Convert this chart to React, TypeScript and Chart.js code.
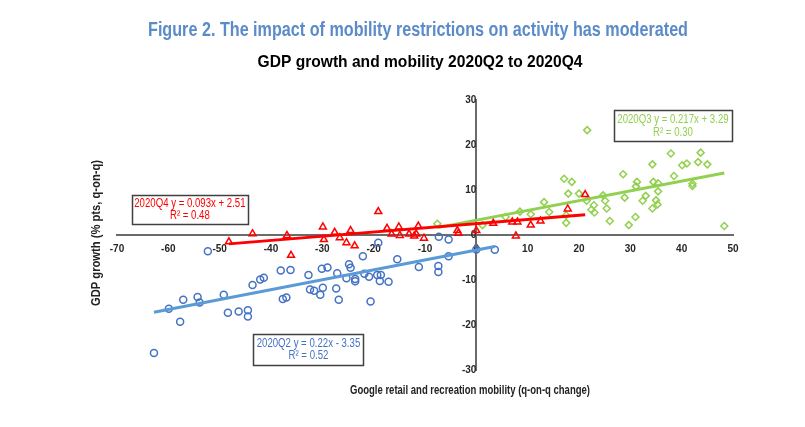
import { useEffect, useRef } from "react";
import { Chart, registerables } from "chart.js";

Chart.register(...registerables);

// ---- Data ----
const Q2_X = [-52.3, -59.9, -57.1, -57.7, -54.3, -53.9, -62.8, -49.2, -48.4, -46.3, -44.5, -44.5, -43.6, -42.1, -41.4, -38.1, -36.2, -37.7, -37.0, -32.7, -30.1, -29.0, -32.4, -31.6, -29.9, -30.4, -27.1, -27.3, -26.8, -24.8, -24.5, -22.1, -19.1, -25.3, -23.6, -23.6, -21.8, -20.9, -19.3, -18.6, -18.8, -17.1, -20.6, -15.4, -11.2, -7.4, -7.4, -7.3, -5.4, -5.4, 3.6, 0.0];
const Q2_Y = [-3.6, -16.4, -14.4, -19.3, -13.8, -15.0, -26.2, -13.3, -17.3, -17.0, -16.7, -18.1, -11.1, -9.9, -9.5, -7.9, -7.8, -14.2, -13.9, -8.9, -7.5, -7.2, -12.1, -12.4, -11.7, -13.3, -8.5, -11.9, -14.4, -6.5, -7.3, -4.7, -1.7, -9.6, -9.8, -10.3, -8.6, -9.3, -8.9, -8.9, -10.2, -10.4, -14.8, -5.4, -7.1, -6.9, -8.2, -0.4, -1.0, -4.7, -3.3, -3.2];

const Q3_X = [21.6, 37.9, 43.7, 40.1, 41.0, 43.2, 45.0, 34.3, 28.6, 38.5, 17.1, 18.6, 31.3, 31.1, 34.5, 35.4, 35.4, 42.1, 42.1, 17.9, 20.0, 28.9, 33.0, 32.4, 35.0, 35.3, 34.3, 24.7, 25.1, 25.4, 22.9, 22.4, 23.0, 21.5, 13.2, 14.2, 10.6, 8.5, 5.7, 17.5, 17.5, 26.0, 29.7, 31.0, 48.3, 1.2, -7.6];
const Q3_Y = [23.3, 18.1, 18.3, 15.5, 15.9, 16.2, 15.7, 15.7, 13.5, 13.1, 12.5, 11.8, 11.8, 10.8, 11.8, 11.5, 9.7, 11.4, 10.9, 9.2, 9.2, 8.3, 8.7, 7.6, 7.7, 6.8, 5.9, 8.8, 7.6, 5.9, 6.6, 5.6, 5.0, 7.6, 7.3, 5.1, 4.6, 5.2, 4.0, 4.4, 2.7, 3.1, 2.2, 4.0, 2.0, 2.2, 2.5];

const Q4_X = [-48.2, -43.6, -36.9, -36.1, -29.9, -29.7, -27.6, -26.6, -25.3, -24.5, -23.7, -19.1, -17.4, -16.5, -15.1, -14.9, -13.1, -12.1, -11.3, -11.7, -10.2, -3.7, -3.5, 0.0, 3.3, 7.0, 8.0, 7.7, 10.6, 12.5, 17.8, 21.2];
const Q4_Y = [-1.5, 0.3, -0.1, -4.5, 1.8, -1.0, 0.6, -0.6, -1.7, 1.0, -2.4, 5.2, 1.5, 0.2, 1.8, -0.1, 0.2, -0.2, 2.0, 0.2, -0.7, 1.0, 0.4, 1.0, 2.6, 2.9, 2.9, -0.2, 2.2, 3.1, 5.8, 9.0];

// Fitted regressions as labelled in the chart
const SERIES_NAMES = ["2020Q2", "2020Q3", "2020Q4"];
const FIT_SLOPES = [0.22, 0.217, 0.093];
const FIT_INTERCEPTS = [-3.35, 3.29, 2.51];
const FIT_R2 = [0.52, 0.3, 0.48];

const X_MIN = -70;
const X_MAX = 50;
const Y_MIN = -30;
const Y_MAX = 30;
const TICK_STEP = 10;

const TITLE = "Figure 2. The impact of mobility restrictions on activity has moderated";
const SUBTITLE = "GDP growth and mobility 2020Q2 to 2020Q4";
const X_TITLE = "Google retail and recreation mobility (q-on-q change)";
const Y_TITLE = "GDP growth (% pts, q-on-q)";

// ---- Styling ----
const FONT = "'Liberation Sans', Arial, sans-serif";
const BLUE_MARK = "#4472C4";
const BLUE_LINE = "#5B9BD5";
const GREEN = "#92D050";
const RED = "#FF0000";
const SERIES_TEXT_COLORS = [BLUE_MARK, GREEN, RED];
// annotation box centres in data units, and sizes in px
const BOX_CENTERS = [
  { x: -32.7, y: -25.4, w: 110, h: 31 },
  { x: 38.3, y: 24.3, w: 118, h: 31 },
  { x: -55.8, y: 5.7, w: 116, h: 29 },
];
const NARROW_SCALE = 0.77;

function pts(xs: number[], ys: number[]) {
  return xs.map((x, i) => ({ x, y: ys[i] }));
}
function fitLine(xs: number[], k: number) {
  const lo = Math.min(...xs);
  const hi = Math.max(...xs);
  return [
    { x: lo, y: FIT_SLOPES[k] * lo + FIT_INTERCEPTS[k] },
    { x: hi, y: FIT_SLOPES[k] * hi + FIT_INTERCEPTS[k] },
  ];
}
function eqText(k: number) {
  const b = FIT_INTERCEPTS[k];
  const sign = b < 0 ? "-" : "+";
  return `${SERIES_NAMES[k]} y = ${FIT_SLOPES[k]}x ${sign} ${Math.abs(b).toFixed(2)}`;
}

function drawFitted(ctx: CanvasRenderingContext2D, text: string, cx: number, cy: number, font: string, width: number, rotate = 0) {
  ctx.font = font;
  const w = ctx.measureText(text).width;
  ctx.save();
  ctx.translate(cx, cy);
  if (rotate) ctx.rotate(rotate);
  ctx.scale(width / w, 1);
  ctx.fillText(text, 0, 0);
  ctx.restore();
}
function drawNarrow(ctx: CanvasRenderingContext2D, text: string, cx: number, cy: number, font: string) {
  ctx.font = font;
  ctx.save();
  ctx.translate(cx, cy);
  ctx.scale(NARROW_SCALE, 1);
  ctx.fillText(text, 0, 0);
  ctx.restore();
}

const textPlugin = {
  id: "textPlugin",
  afterDraw(chart: any) {
    const ctx = chart.ctx as CanvasRenderingContext2D;
    const ca = chart.chartArea;
    ctx.save();
    ctx.textAlign = "center";
    ctx.textBaseline = "middle";
    ctx.fillStyle = "#5B8BC9";
    drawFitted(ctx, TITLE, 418, 30, `bold 20px ${FONT}`, 540);
    ctx.fillStyle = "#000000";
    drawFitted(ctx, SUBTITLE, 420, 62, `bold 16.5px ${FONT}`, 325);

    ctx.fillStyle = "#222222";
    drawFitted(ctx, X_TITLE, 470, ca.bottom + 21, `bold 12px ${FONT}`, 240);
    drawFitted(ctx, Y_TITLE, 97, 233, `bold 12px ${FONT}`, 146, -Math.PI / 2);

    const xs = chart.scales.x;
    const ys = chart.scales.y;
    BOX_CENTERS.forEach((b, k) => {
      const cx = xs.getPixelForValue(b.x);
      const cy = ys.getPixelForValue(b.y);
      const l = Math.round(cx - b.w / 2) + 0.5;
      const t = Math.round(cy - b.h / 2) + 0.5;
      ctx.fillStyle = "#ffffff";
      ctx.fillRect(l, t, b.w, b.h);
      ctx.strokeStyle = "#404040";
      ctx.lineWidth = 1.5;
      ctx.strokeRect(l, t, b.w, b.h);
      ctx.fillStyle = SERIES_TEXT_COLORS[k];
      drawNarrow(ctx, eqText(k), cx, cy - 6, `12.5px ${FONT}`);
      drawNarrow(ctx, `R² = ${FIT_R2[k].toFixed(2)}`, cx, cy + 6.5, `12.5px ${FONT}`);
    });
    ctx.restore();
  },
};

export default function App() {
  const ref = useRef<HTMLCanvasElement | null>(null);
  useEffect(() => {
    if (!ref.current) return;
    const tickFont = { family: FONT, size: 10, weight: "bold" as const };
    const chart = new Chart(ref.current, {
      type: "scatter",
      data: {
        datasets: [
          {
            label: "Q4 fit",
            data: fitLine(Q4_X, 2),
            showLine: true,
            borderColor: RED,
            borderWidth: 3,
            pointRadius: 0,
            order: 0,
          },
          {
            label: "2020Q4",
            data: pts(Q4_X, Q4_Y),
            pointStyle: "triangle",
            pointRadius: 4,
            borderColor: RED,
            backgroundColor: "rgba(0,0,0,0)",
            borderWidth: 1.5,
            order: 1,
          },
          {
            label: "Q3 fit",
            data: fitLine(Q3_X, 1),
            showLine: true,
            borderColor: GREEN,
            borderWidth: 3,
            pointRadius: 0,
            order: 2,
          },
          {
            label: "2020Q3",
            data: pts(Q3_X, Q3_Y),
            pointStyle: "rectRot",
            pointRadius: 3.5,
            borderColor: GREEN,
            backgroundColor: "rgba(0,0,0,0)",
            borderWidth: 1.5,
            order: 3,
          },
          {
            label: "Q2 fit",
            data: fitLine(Q2_X, 0),
            showLine: true,
            borderColor: BLUE_LINE,
            borderWidth: 3,
            pointRadius: 0,
            order: 4,
          },
          {
            label: "2020Q2",
            data: pts(Q2_X, Q2_Y),
            pointStyle: "circle",
            pointRadius: 3.5,
            borderColor: BLUE_MARK,
            backgroundColor: "rgba(0,0,0,0)",
            borderWidth: 1.5,
            order: 5,
          },
        ],
      },
      options: {
        animation: false,
        responsive: false,
        maintainAspectRatio: false,
        layout: { padding: { left: 117, right: 72, top: 100, bottom: 57 } },
        plugins: {
          legend: { display: false },
          tooltip: { enabled: false },
          title: { display: false },
        },
        scales: {
          x: {
            type: "linear",
            min: X_MIN,
            max: X_MAX,
            position: { y: 0 } as any,
            grid: { display: false, drawTicks: false },
            border: { display: true, color: "#6b6b6b", width: 2 },
            ticks: { stepSize: TICK_STEP, color: "#262626", font: tickFont, padding: 8, maxRotation: 0, autoSkip: false },
          },
          y: {
            type: "linear",
            min: Y_MIN,
            max: Y_MAX,
            position: { x: 0 } as any,
            grid: { display: false, drawTicks: false },
            border: { display: true, color: "#6b6b6b", width: 2 },
            ticks: { stepSize: TICK_STEP, color: "#262626", font: tickFont, padding: 9, autoSkip: false },
          },
        },
      },
      plugins: [textPlugin],
    });
    return () => chart.destroy();
  }, []);

  return (
    <div style={{ position: "absolute", left: 0, top: 0, width: 805, height: 427, background: "#ffffff" }}>
      <canvas ref={ref} width={805} height={427} style={{ width: 805, height: 427, display: "block" }} />
    </div>
  );
}
